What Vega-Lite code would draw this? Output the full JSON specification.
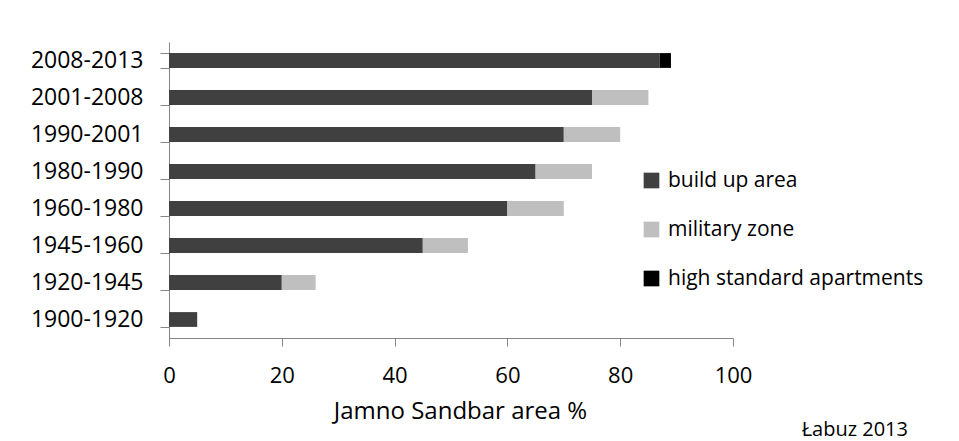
{
  "$schema": "https://vega.github.io/schema/vega-lite/v6.json",
  "autosize": {"type": "none"},
  "padding": {"left": 169, "top": 42, "right": 226, "bottom": 103},
  "width": 564,
  "height": 296,
  "background": "white",
  "config": {
    "font": "Open Sans",
    "view": {"stroke": null}
  },
  "title": {
    "text": "Łabuz 2013",
    "orient": "bottom",
    "anchor": "end",
    "frame": "group",
    "fontSize": 20,
    "fontWeight": "normal",
    "color": "#000000",
    "font": "Open Sans",
    "offset": -3,
    "dx": 175
  },
  "data": {
    "values": [
      {"period": "2008-2013", "category": "build up area", "value": 87},
      {"period": "2008-2013", "category": "high standard apartments", "value": 2},
      {"period": "2001-2008", "category": "build up area", "value": 75},
      {"period": "2001-2008", "category": "military zone", "value": 10},
      {"period": "1990-2001", "category": "build up area", "value": 70},
      {"period": "1990-2001", "category": "military zone", "value": 10},
      {"period": "1980-1990", "category": "build up area", "value": 65},
      {"period": "1980-1990", "category": "military zone", "value": 10},
      {"period": "1960-1980", "category": "build up area", "value": 60},
      {"period": "1960-1980", "category": "military zone", "value": 10},
      {"period": "1945-1960", "category": "build up area", "value": 45},
      {"period": "1945-1960", "category": "military zone", "value": 8},
      {"period": "1920-1945", "category": "build up area", "value": 20},
      {"period": "1920-1945", "category": "military zone", "value": 6},
      {"period": "1900-1920", "category": "build up area", "value": 5}
    ]
  },
  "mark": {"type": "bar"},
  "encoding": {
    "y": {
      "field": "period",
      "type": "nominal",
      "sort": ["2008-2013", "2001-2008", "1990-2001", "1980-1990", "1960-1980", "1945-1960", "1920-1945", "1900-1920"],
      "scale": {"paddingInner": 0.6, "paddingOuter": 0.3},
      "axis": {
        "title": null,
        "ticks": true,
        "tickBand": "extent",
        "domainColor": "#868686",
        "tickColor": "#868686",
        "tickSize": 9,
        "tickWidth": 1,
        "labelPadding": 17,
        "labelFontSize": 23,
        "labelColor": "#000000",
        "labelFont": "Open Sans"
      }
    },
    "x": {
      "field": "value",
      "type": "quantitative",
      "stack": "zero",
      "scale": {"domain": [0, 100], "nice": false},
      "axis": {
        "title": "Jamno Sandbar area %",
        "values": [0, 20, 40, 60, 80, 100],
        "grid": false,
        "labelFlush": false,
        "domainColor": "#868686",
        "tickColor": "#868686",
        "tickSize": 8,
        "labelPadding": 19,
        "labelFontSize": 22,
        "labelColor": "#000000",
        "labelFont": "Open Sans",
        "titleFontSize": 24,
        "titleFontWeight": "normal",
        "titleColor": "#000000",
        "titleFont": "Open Sans",
        "titleBaseline": "alphabetic",
        "titleY": 80,
        "titleX": 291
      }
    },
    "color": {
      "field": "category",
      "type": "nominal",
      "scale": {
        "domain": ["build up area", "military zone", "high standard apartments"],
        "range": ["#404040", "#BFBFBF", "#000000"]
      },
      "legend": {
        "title": null,
        "orient": "none",
        "legendX": 472,
        "legendY": 128,
        "padding": 0,
        "symbolType": "square",
        "symbolSize": 246,
        "symbolStrokeWidth": 0,
        "symbolOpacity": 1,
        "labelFontSize": 21,
        "labelColor": "#000000",
        "labelFont": "Open Sans",
        "labelOffset": 6,
        "rowPadding": 27,
        "labelLimit": 400
      }
    },
    "order": {"field": "category", "type": "nominal", "sort": "ascending"}
  }
}
